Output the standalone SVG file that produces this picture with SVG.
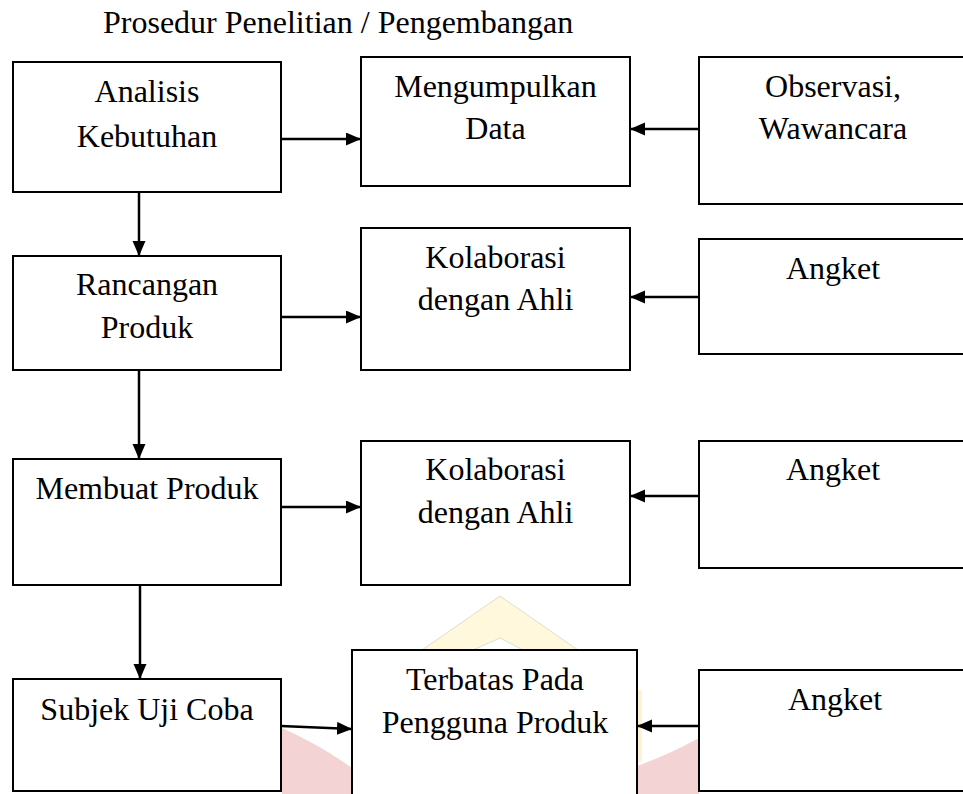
<svg xmlns="http://www.w3.org/2000/svg" width="963" height="794" viewBox="0 0 963 794">
<defs>
<style>
.box{fill:#fff;stroke:#000;stroke-width:2}
.t{font-family:"Liberation Serif","Times New Roman",serif;font-size:32px;fill:#000;text-anchor:middle}
.title{font-family:"Liberation Serif","Times New Roman",serif;font-size:32px;fill:#000}
.c{stroke:#000;stroke-width:2.5;fill:none;marker-end:url(#ah)}
</style>
<marker id="ah" markerUnits="userSpaceOnUse" markerWidth="16" markerHeight="14" refX="15" refY="6.5" orient="auto">
<path d="M0,0 L15,6.5 L0,13 Z" fill="#000"/>
</marker>
</defs>
<rect width="963" height="794" fill="#fff"/>
<g id="watermark">
<path d="M422,650 L500,596 L578,650 L523,650 L500,638 L473,650 Z" fill="#FFF8DC" stroke="#DDDDD0" stroke-width="1"/>
<path d="M282,728 Q320,745 352,768 L352,794 L282,794 Z" fill="#F3D3D3"/>
<path d="M637,766 Q668,755 699,738 L699,794 L637,794 Z" fill="#F3D3D3"/>
<rect x="636" y="690" width="6" height="72" rx="3" fill="#FBF3D6"/>
</g>
<text class="title" x="103" y="33">Prosedur Penelitian / Pengembangan</text>
<g id="n-analisis"><rect class="box" x="13" y="62" width="268" height="130"/><text class="t" x="147" y="102">Analisis</text><text class="t" x="147" y="147">Kebutuhan</text></g>
<g id="n-mengumpulkan"><rect class="box" x="361" y="57" width="269" height="129"/><text class="t" x="495.5" y="97">Mengumpulkan</text><text class="t" x="495.5" y="139">Data</text></g>
<g id="n-observasi"><rect class="box" x="699" y="57" width="272" height="147"/><text class="t" x="833" y="97">Observasi,</text><text class="t" x="833" y="139">Wawancara</text></g>
<g id="n-rancangan"><rect class="box" x="13" y="256" width="268" height="114"/><text class="t" x="147" y="295">Rancangan</text><text class="t" x="147" y="338">Produk</text></g>
<g id="n-kolaborasi1"><rect class="box" x="361" y="228" width="269" height="142"/><text class="t" x="495.5" y="268">Kolaborasi</text><text class="t" x="495.5" y="310">dengan Ahli</text></g>
<g id="n-angket1"><rect class="box" x="699" y="239" width="272" height="115"/><text class="t" x="833" y="279">Angket</text></g>
<g id="n-membuat"><rect class="box" x="13" y="459" width="268" height="126"/><text class="t" x="147" y="499">Membuat Produk</text></g>
<g id="n-kolaborasi2"><rect class="box" x="361" y="441" width="269" height="144"/><text class="t" x="495.5" y="480">Kolaborasi</text><text class="t" x="495.5" y="523">dengan Ahli</text></g>
<g id="n-angket2"><rect class="box" x="699" y="441" width="272" height="127"/><text class="t" x="833" y="480">Angket</text></g>
<g id="n-subjek"><rect class="box" x="13" y="679" width="268" height="112"/><text class="t" x="147" y="720">Subjek Uji Coba</text></g>
<g id="n-terbatas"><rect class="box" x="352" y="650" width="285" height="160"/><text class="t" x="495" y="690">Terbatas Pada</text><text class="t" x="495" y="733">Pengguna Produk</text></g>
<g id="n-angket3"><rect class="box" x="699" y="670" width="272" height="121"/><text class="t" x="835" y="710">Angket</text></g>
<g id="connectors">
<line class="c" x1="281" y1="139" x2="361" y2="139"/>
<line class="c" x1="699" y1="129" x2="630" y2="129"/>
<line class="c" x1="139" y1="192" x2="139" y2="256"/>
<line class="c" x1="281" y1="317" x2="361" y2="317"/>
<line class="c" x1="699" y1="297" x2="630" y2="297"/>
<line class="c" x1="139" y1="370" x2="139" y2="459"/>
<line class="c" x1="281" y1="507" x2="361" y2="507"/>
<line class="c" x1="699" y1="496" x2="630" y2="496"/>
<line class="c" x1="140" y1="585" x2="140" y2="679"/>
<line class="c" x1="281" y1="726" x2="352" y2="729"/>
<line class="c" x1="699" y1="726" x2="637" y2="726"/>
</g>
</svg>
